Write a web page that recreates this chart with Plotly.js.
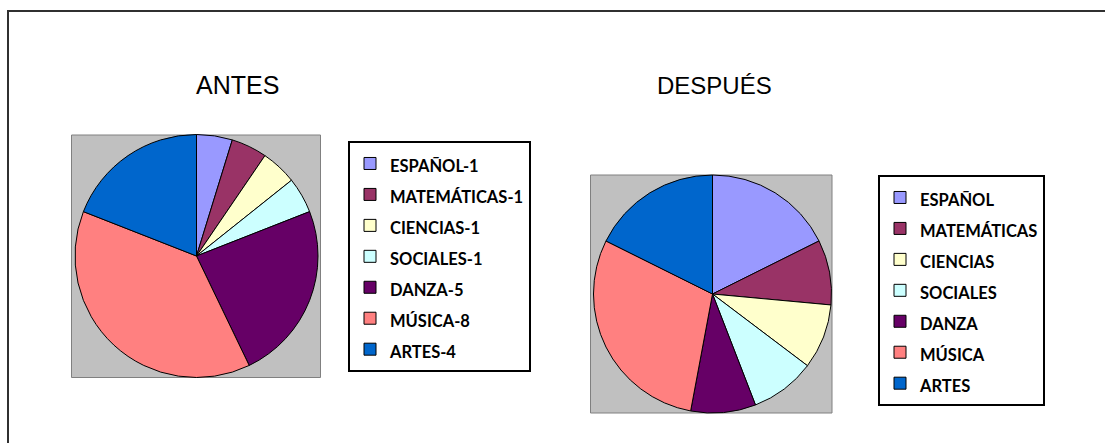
<!DOCTYPE html>
<html>
<head>
<meta charset="utf-8">
<script src="https://cdn.plot.ly/plotly-3.0.1.min.js"></script>
<style>
  html, body { margin: 0; padding: 0; background: #ffffff; }
  #chart { width: 1105px; height: 443px; }
</style>
</head>
<body>
<div id="chart"></div>
<script>
// ---- data ----
const categories = ["ESPAÑOL", "MATEMÁTICAS", "CIENCIAS", "SOCIALES", "DANZA", "MÚSICA", "ARTES"];
const antesValues = [1, 1, 1, 1, 5, 8, 4];
const despuesValues = [6, 3, 3, 3, 3, 10, 6];
const sliceColors = ["#9999FF", "#993366", "#FFFFCC", "#CCFFFF", "#660066", "#FF8080", "#0066CC"];
const chartTitles = ["ANTES", "DESPUÉS"];

// legend labels built from the data
const antesLabels = categories.map((c, i) => c + "-" + antesValues[i]);
const despuesLabels = categories.slice();

const W = 1105, H = 443;
const px = v => v / W;
const py = v => 1 - v / H;

const legendTextSize = 16.5;
const wrap = s => '<span style="font-size:' + legendTextSize + 'px">' + s + '</span>';

const common = {
  type: "pie",
  sort: false,
  direction: "clockwise",
  rotation: 0,
  textinfo: "none",
  hoverinfo: "label+value+percent",
  marker: { colors: sliceColors, line: { color: "#000000", width: 1 } },
  showlegend: true
};

const traces = [
  Object.assign({}, common, {
    labels: antesLabels.map(wrap),
    values: antesValues,
    domain: { x: [px(75), px(318)], y: [py(377.5), py(134.5)] },
    legend: "legend"
  }),
  Object.assign({}, common, {
    labels: despuesLabels.map(wrap),
    values: despuesValues,
    domain: { x: [px(593), px(832)], y: [py(413), py(175)] },
    legend: "legend2"
  })
];

const legendBase = {
  bgcolor: "#ffffff",
  bordercolor: "#000000",
  borderwidth: 2,
  font: { family: "Lato, 'Liberation Sans', sans-serif", size: 21.5, color: "#000000", weight: "bold" },
  xanchor: "left",
  yanchor: "top",
  traceorder: "normal"
};

const layout = {
  width: W,
  height: H,
  margin: { l: 0, r: 0, t: 0, b: 0, pad: 0 },
  paper_bgcolor: "#ffffff",
  plot_bgcolor: "#ffffff",
  showlegend: true,
  legend: Object.assign({}, legendBase, { x: px(348), y: py(141) }),
  legend2: Object.assign({}, legendBase, { x: px(878), y: py(175) }),
  shapes: [
    // outer frame
    { type: "rect", xref: "paper", yref: "paper", x0: px(8), x1: 1.05, y0: -0.05, y1: py(11),
      line: { color: "#303030", width: 2 }, fillcolor: "rgba(0,0,0,0)", layer: "below" },
    // gray plot areas
    { type: "rect", xref: "paper", yref: "paper", x0: px(71.5), x1: px(320.5), y0: py(377.5), y1: py(135),
      line: { color: "#808080", width: 1 }, fillcolor: "#C0C0C0", layer: "below" },
    { type: "rect", xref: "paper", yref: "paper", x0: px(590.5), x1: px(832), y0: py(413), y1: py(175),
      line: { color: "#808080", width: 1 }, fillcolor: "#C0C0C0", layer: "below" }
  ],
  annotations: [
    { text: chartTitles[0], xref: "paper", yref: "paper", x: px(237.5), y: py(85), xanchor: "center", yanchor: "middle",
      showarrow: false, font: { family: "'Liberation Sans', Arial, sans-serif", size: 25, color: "#000000" } },
    { text: chartTitles[1], xref: "paper", yref: "paper", x: px(714.5), y: py(85), xanchor: "center", yanchor: "middle",
      showarrow: false, font: { family: "'Liberation Sans', Arial, sans-serif", size: 24, color: "#000000" } }
  ]
};

Plotly.newPlot("chart", traces, layout, { displayModeBar: false, staticPlot: true });
</script>
</body>
</html>
